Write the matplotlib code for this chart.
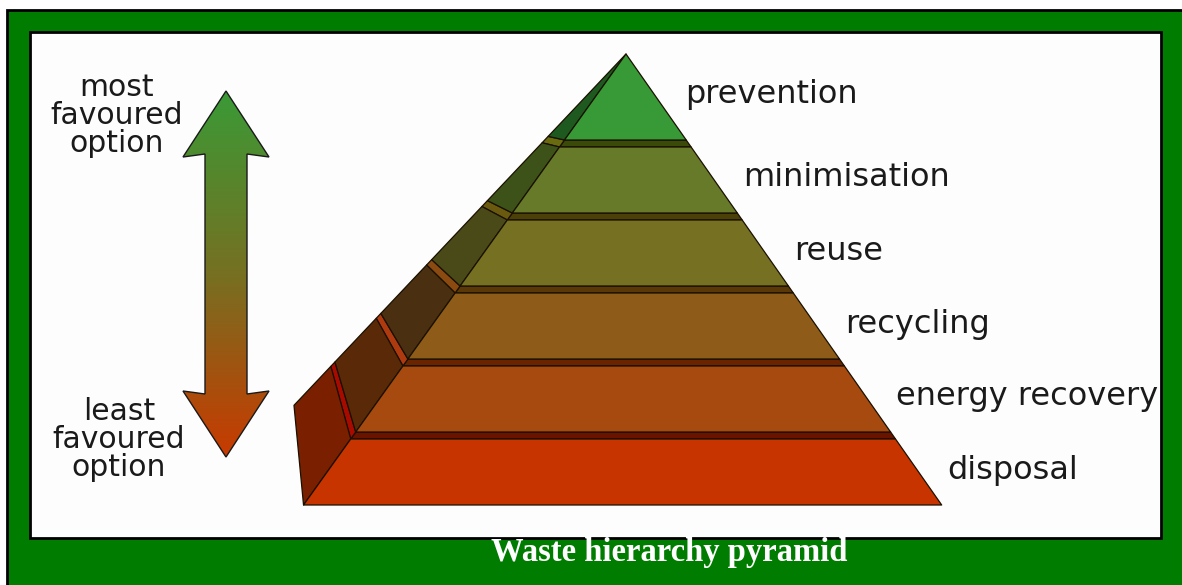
import numpy as np
import matplotlib
matplotlib.use("Agg")
import matplotlib.pyplot as plt
from matplotlib.patches import Polygon, Rectangle
from matplotlib.colors import LinearSegmentedColormap

# layers, top of the pyramid first
layers = ["prevention", "minimisation", "reuse", "recycling", "energy recovery", "disposal"]
front_colors = ["#389a36", "#667a2a", "#767022", "#8e5c18", "#a64a10", "#c83400"]
side_colors = ["#1e5a20", "#3c5218", "#4a4a18", "#4a3010", "#5a2a08", "#7a2000"]
# top surface (ledge) of every layer below the first: front strip and side strip
ledge_front = [None, "#3a4a08", "#4a4008", "#5a3808", "#6a2400", "#6a1400"]
ledge_side = [None, "#6a6a10", "#6a5a10", "#8a4a10", "#b03a10", "#a80a00"]
top_label = ["most", "favoured", "option"]
bottom_label = ["least", "favoured", "option"]
caption = "Waste hierarchy pyramid"
arrow_colors = ["#3a9a36", "#767022", "#c83a00"]

fig = plt.figure(figsize=(11.82, 5.85), dpi=100)
fig.patch.set_facecolor("white")
ax = fig.add_axes([0, 0, 1, 1])
ax.set_xlim(0, 1182)
ax.set_ylim(585, 0)
ax.axis("off")

# green frame with white panel (the frame runs off the right and bottom edges)
ax.add_patch(Rectangle((7, 10), 1200, 600, facecolor="#007d00", edgecolor="none", zorder=0))
ax.plot([7, 7, 1182], [585, 10, 10], color="black", lw=2, zorder=0.5, solid_joinstyle="miter")
ax.add_patch(Rectangle((30, 32), 1131, 506, facecolor="#fdfdfd", edgecolor="black", lw=2, zorder=1))
ax.text(669, 553, caption, ha="center", va="center", color="white", fontsize=23.5,
        fontweight="bold", family="Liberation Serif", zorder=5)

# pyramid geometry
apex_x, apex_y = 626, 54
top_h, layer_h, gap = 86, 66, 7


def fl(y):
    return apex_x - 0.715 * (y - apex_y)


def fr(y):
    return apex_x + 0.700 * (y - apex_y)


def back(y):
    yb = y - 0.00049 * (y - apex_y) ** 2
    return apex_x - 0.945 * (yb - apex_y), yb


tops, bottoms = [], []
y = apex_y
for i in range(len(layers)):
    t = y
    b = t + (top_h if i == 0 else layer_h)
    tops.append(t)
    bottoms.append(b)
    y = b + gap

edge = dict(edgecolor="#1a1000", lw=0.9, joinstyle="round")
for i, name in enumerate(layers):
    t, b = tops[i], bottoms[i]
    # ledge showing between this layer and the one above
    if i > 0:
        bu = bottoms[i - 1]
        ax.add_patch(Polygon([(fl(bu), bu), (fr(bu), bu), (fr(t), t), (fl(t), t)],
                             closed=True, facecolor=ledge_front[i], zorder=3, **edge))
        ax.add_patch(Polygon([(fl(bu), bu), back(bu), back(t), (fl(t), t)],
                             closed=True, facecolor=ledge_side[i], zorder=3, **edge))
    # side face
    ax.add_patch(Polygon([(fl(b), b), (fl(t), t), back(t), back(b)],
                         closed=True, facecolor=side_colors[i], zorder=4, **edge))
    # front face
    ax.add_patch(Polygon([(fl(t), t), (fr(t), t), (fr(b), b), (fl(b), b)],
                         closed=True, facecolor=front_colors[i], zorder=4, **edge))
    mid = (t + b) / 2
    ax.text(fr(mid) + 29, mid - 2, name, ha="left", va="center", fontsize=23,
            color="#1a1a1a", family="DejaVu Sans", zorder=5)

# double headed arrow with a vertical colour gradient
cx, tip_top, tip_bot = 226, 91, 457
head_len, head_w, shaft_w = 66, 43, 21
arrow = [(cx, tip_top), (cx + head_w, tip_top + head_len), (cx + shaft_w, tip_top + head_len - 3),
         (cx + shaft_w, tip_bot - head_len + 3), (cx + head_w, tip_bot - head_len),
         (cx, tip_bot), (cx - head_w, tip_bot - head_len), (cx - shaft_w, tip_bot - head_len + 3),
         (cx - shaft_w, tip_top + head_len - 3), (cx - head_w, tip_top + head_len)]
poly = Polygon(arrow, closed=True, facecolor="none", edgecolor="#1a1a1a", lw=1.0, zorder=4)
ax.add_patch(poly)
cmap = LinearSegmentedColormap.from_list("fav", arrow_colors)
grad = np.linspace(0, 1, 256).reshape(-1, 1)
im = ax.imshow(grad, cmap=cmap, extent=(cx - head_w, cx + head_w, tip_bot, tip_top),
               aspect="auto", zorder=3)
im.set_clip_path(poly)
ax.set_xlim(0, 1182)
ax.set_ylim(585, 0)

for k, (a, b) in enumerate(zip(top_label, bottom_label)):
    ax.text(117, 87 + 28 * k, a, ha="center", va="center", fontsize=21.5,
            color="#1a1a1a", family="DejaVu Sans", zorder=5)
    ax.text(119, 411 + 28 * k, b, ha="center", va="center", fontsize=21.5,
            color="#1a1a1a", family="DejaVu Sans", zorder=5)

fig.savefig("out.png", dpi=100)
